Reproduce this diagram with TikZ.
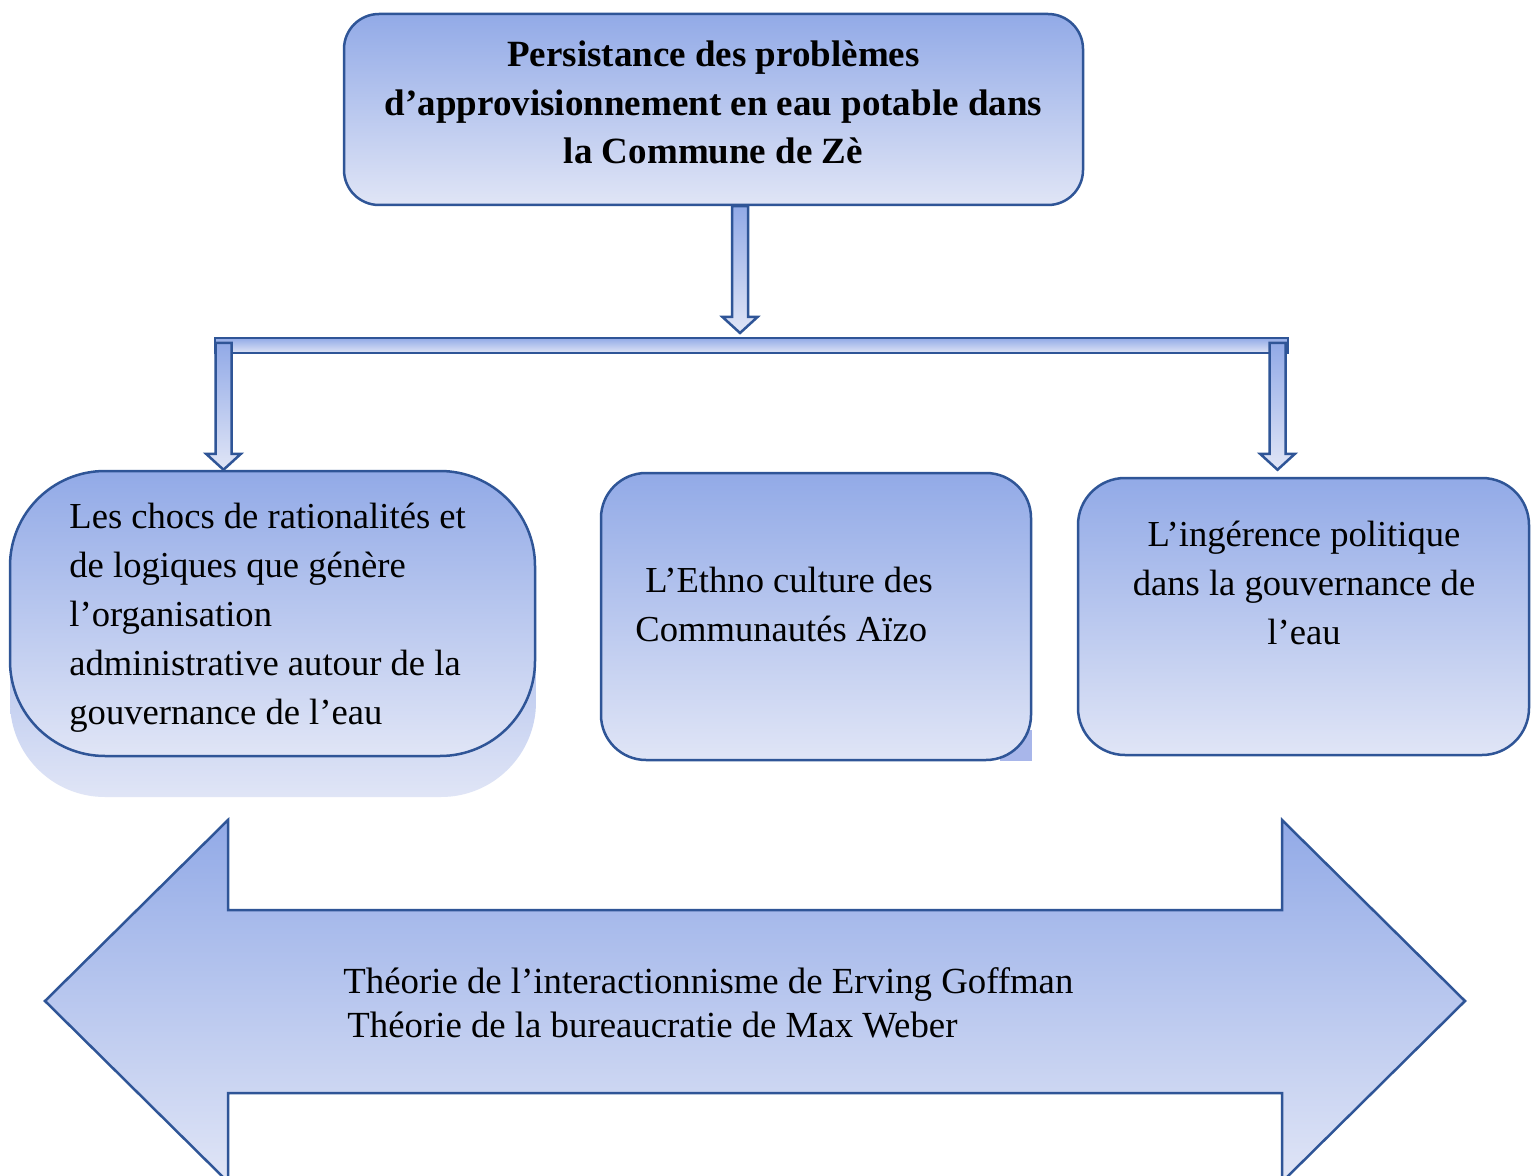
\documentclass[tikz,border=0pt]{standalone}
\usepackage{fontspec}
\setmainfont{Liberation Serif}
\usetikzlibrary{calc}
\definecolor{bord}{RGB}{47,85,151}
\definecolor{gtop}{RGB}{146,170,231}
\definecolor{gbot}{RGB}{224,229,246}
\definecolor{shadc}{RGB}{168,182,234}
\newcommand\blockdown[2]{\path[blk] let \p1=(#1), \p2=(#2) in (\x1-4pt,\y1) -- (\x1+4pt,\y1) -- (\x1+4pt,\y2+8pt) -- (\x1+8.75pt,\y2+8pt) -- (\x1,\y2) -- (\x1-8.75pt,\y2+8pt) -- (\x1-4pt,\y2+8pt) -- cycle;}
\begin{document}
\begin{tikzpicture}[x=0.5pt,y=-0.5pt,
  box/.style={draw=bord, line width=1.25pt, top color=gtop, bottom color=gbot, inner sep=0pt},
  blk/.style={draw=bord, line width=1.25pt, top color=gtop, bottom color=gbot, line join=miter},
  txt/.style={font=\fontsize{18.3}{24.5}\selectfont, inner sep=0pt, align=left},
]
\clip (0,0) rectangle (1536,1176);
\fill[white] (0,0) rectangle (1536,1176);

% top box
\node[box, rounded corners=17.5pt, minimum width=369.5pt, minimum height=95.5pt] (prob) at (713.5,109.5) {};
\node[txt, align=center, anchor=base, font=\bfseries\fontsize{18.5}{24.25}\selectfont] (probt) at (713.5,164)
  {Persistance des problèmes\\ d’approvisionnement en eau potable dans\\ la Commune de Zè};

% left box with shadow
\path[rounded corners=47.5pt, top color=gtop, bottom color=gbot] (10,512) rectangle (536,797);
\node[box, rounded corners=47.5pt, minimum width=262.5pt, minimum height=142.5pt] (chocs) at (272.5,613.5) {};
\node[txt, anchor=base west] (chocst) at (69,724)
  {Les chocs de rationalités et\\de logiques que génère\\l’organisation\\administrative autour de la\\gouvernance de l’eau};

% middle box
\fill[shadc] (1000,730) rectangle (1032,761);
\node[box, rounded corners=22.5pt, minimum width=215pt, minimum height=143.5pt] (ethno) at (816,616.5) {};
\node[txt, anchor=base west] (ethnot) at (635,641.5)
  {\hspace*{5pt}L’Ethno culture des\\Communautés Aïzo};

% right box
\node[box, rounded corners=23.5pt, minimum width=225.5pt, minimum height=138.5pt] (ing) at (1303.5,616.5) {};
\node[txt, align=center, anchor=base] (ingt) at (1304,644)
  {L’ingérence politique\\dans la gouvernance de\\l’eau};

% connectors
\coordinate (c0) at ($(prob.south)+(26.5,0)$);
\coordinate (c1) at (740,333);
\coordinate (bl) at (215,338);
\coordinate (br) at (1288,353);
\coordinate (l0) at (223.5,343);
\coordinate (l1) at ($(chocs.north)+(-49,0)$);
\coordinate (r0) at (1277.5,343);
\coordinate (r1) at ($(ing.north)+(-26,-7)$);
\blockdown{c0}{c1}
\path[blk] (bl) rectangle (br);
\blockdown{l0}{l1}
\blockdown{r0}{r1}

% bottom double arrow
\path[blk] (45,1001) -- (228,820) -- (228,910) -- (1282,910) -- (1282,820) -- (1465,1001)
  -- (1282,1182) -- (1282,1093) -- (228,1093) -- (228,1182) -- cycle;
\node[txt, anchor=base west, font=\fontsize{18.4}{22.35}\selectfont] (theo) at (343,1037.7)
  {Théorie de l’interactionnisme de Erving Goffman\\\hspace*{2pt}Théorie de la bureaucratie de Max Weber};
\end{tikzpicture}
\end{document}
